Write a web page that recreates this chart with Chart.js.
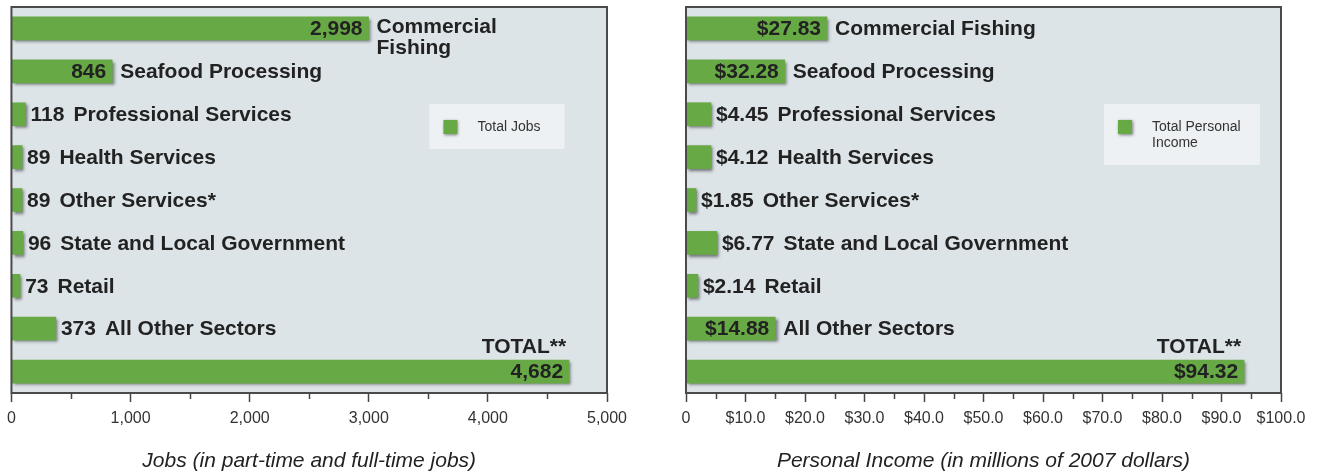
<!DOCTYPE html>
<html>
<head>
<meta charset="utf-8">
<script src="https://cdn.jsdelivr.net/npm/chart.js@4.4.1/dist/chart.umd.min.js"></script>
<style>
  html, body { margin: 0; padding: 0; background: #fff; }
  #wrap { position: relative; width: 1317px; height: 475px; overflow: hidden; }
  .box { position: absolute; top: 0; height: 475px; }
  #b1 { left: 0; width: 655px; }
  #b2 { left: 655px; width: 662px; }
</style>
</head>
<body>
<div id="wrap">
  <div class="box" id="b1"><canvas id="cJobs"></canvas></div>
  <div class="box" id="b2"><canvas id="cIncome"></canvas></div>
</div>
<script>
// Datos
const jobSectors = [['Commercial', 'Fishing'], 'Seafood Processing', 'Professional Services', 'Health Services',
  'Other Services*', 'State and Local Government', 'Retail', 'All Other Sectors', 'TOTAL**'];
const jobValues = [2998, 846, 118, 89, 89, 96, 73, 373, 4682];
const jobTickLabels = ['0', '1,000', '2,000', '3,000', '4,000', '5,000'];

const incomeSectors = ['Commercial Fishing', 'Seafood Processing', 'Professional Services', 'Health Services',
  'Other Services*', 'State and Local Government', 'Retail', 'All Other Sectors', 'TOTAL**'];
// cifras impresas en cada barra
const incomeValues = [27.83, 32.28, 4.45, 4.12, 1.85, 6.77, 2.14, 14.88, 94.32];
// largo de barra tal como está dibujado en el original (no siempre coincide con la cifra)
const incomeBars = [23.7, 16.6, 4.2, 4.2, 1.7, 5.2, 2.0, 15.0, 93.8];
const incomeTickLabels = ['0', '$10.0', '$20.0', '$30.0', '$40.0', '$50.0', '$60.0', '$70.0', '$80.0', '$90.0', '$100.0'];

const GREEN = '#67aa45';
const SANS = '"Liberation Sans", Arial, Helvetica, sans-serif';
const BOLD = 'bold 21px ' + SANS;

// sombra suave bajo las barras
const barShadow = {
  id: 'barShadow',
  beforeDatasetDraw(chart) {
    const c = chart.ctx;
    c.save();
    c.shadowColor = 'rgba(0,0,0,0.5)'; c.shadowBlur = 3; c.shadowOffsetX = 2; c.shadowOffsetY = 2;
  },
  afterDatasetDraw(chart) { chart.ctx.restore(); },
};

// fondo del área y marco
const frame = {
  id: 'frame',
  beforeDraw(chart) {
    const a = chart.chartArea, c = chart.ctx;
    c.save(); c.fillStyle = '#dde4e8'; c.fillRect(a.left, a.top, a.right - a.left, a.bottom - a.top); c.restore();
  },
  afterDatasetsDraw(chart, args, o) {
    const a = chart.chartArea, c = chart.ctx, s = chart.scales.x;
    c.save();
    c.strokeStyle = '#4a4a4a'; c.lineWidth = 2;
    c.strokeRect(a.left, a.top, a.right - a.left, a.bottom - a.top);
    // marcas menores
    c.strokeStyle = '#444'; c.lineWidth = 1.5;
    s.ticks.forEach(t => {
      if (Math.round(t.value) % o.major === 0) return;
      const x = Math.round(s.getPixelForValue(t.value)) + 0.5;
      c.beginPath(); c.moveTo(x, a.bottom); c.lineTo(x, a.bottom + 6); c.stroke();
    });
    c.restore();
  },
};

// valores y nombres de sector junto a cada barra
const barText = {
  id: 'barText',
  afterDatasetsDraw(chart, args, o) {
    const meta = chart.getDatasetMeta(0), c = chart.ctx, n = meta.data.length;
    c.save();
    c.font = BOLD; c.fillStyle = '#222'; c.textBaseline = 'middle';
    meta.data.forEach((bar, i) => {
      const txt = o.text[i], w = c.measureText(txt).width, len = bar.x - bar.base;
      let cx;
      if (len > w + 12) {
        c.textAlign = 'right'; c.fillText(txt, bar.x - 6, bar.y + 1); cx = bar.x + 8;
      } else {
        c.textAlign = 'left'; c.fillText(txt, bar.x + 5, bar.y + 1); cx = bar.x + 5 + w + 9;
      }
      const lab = chart.data.labels[i];
      if (i === n - 1) { c.textAlign = 'right'; c.fillText(lab, bar.x - 3, bar.y - 24); return; }
      const lines = Array.isArray(lab) ? lab : [lab];
      c.textAlign = 'left';
      lines.forEach((l, k) => c.fillText(l, cx, bar.y + 1 + (lines.length > 1 ? -2 + k * 21 : 0)));
    });
    c.restore();
  },
};

// leyenda en recuadro dentro del área
const boxLegend = {
  id: 'boxLegend',
  afterDraw(chart, args, o) {
    const a = chart.chartArea, c = chart.ctx;
    const x = a.left + o.dx, y = a.top + o.dy;
    c.save();
    c.font = '14px ' + SANS;
    const words = chart.data.datasets[0].label.split(' ');
    const lines = [];
    let cur = '';
    words.forEach(wd => {
      const t = cur ? cur + ' ' + wd : wd;
      if (c.measureText(t).width > o.maxText && cur) { lines.push(cur); cur = wd; } else cur = t;
    });
    lines.push(cur);
    const h = 29 + 16 * lines.length;
    c.fillStyle = '#eef1f3'; c.fillRect(x, y, o.width, h);
    c.save();
    c.shadowColor = 'rgba(0,0,0,0.5)'; c.shadowBlur = 3; c.shadowOffsetX = 1; c.shadowOffsetY = 1;
    c.fillStyle = GREEN; c.fillRect(x + 14, y + 16, 14, 14);
    c.restore();
    c.fillStyle = '#333'; c.textBaseline = 'middle'; c.textAlign = 'left';
    lines.forEach((l, k) => c.fillText(l, x + 48, y + 23 + k * 16));
    c.restore();
  },
};

function makeChart(id, cfg) {
  return new Chart(document.getElementById(id), {
    type: 'bar',
    data: {
      labels: cfg.labels,
      datasets: [{ label: cfg.legend, data: cfg.data, backgroundColor: GREEN, borderWidth: 0, barThickness: 23 }],
    },
    options: {
      indexAxis: 'y',
      responsive: true, maintainAspectRatio: false, animation: false,
      layout: { padding: cfg.padding },
      scales: {
        y: { type: 'category', display: false, grid: { display: false } },
        x: {
          min: 0, max: cfg.max,
          afterFit: s => { s.height = 82; },
          border: { display: false },
          grid: {
            drawOnChartArea: false, drawTicks: true, tickLength: 9, tickWidth: 1.5,
            tickColor: c => (c.tick && Math.round(c.tick.value) % cfg.major === 0) ? '#444' : 'rgba(0,0,0,0)',
          },
          ticks: {
            stepSize: cfg.major / 2, autoSkip: false, maxRotation: 0, padding: 7,
            color: '#333', font: { family: SANS, size: 16 },
            callback: v => (Math.round(v) % cfg.major === 0) ? cfg.tickLabels[Math.round(v) / cfg.major] : '',
          },
          title: {
            display: true, text: cfg.title, color: '#222',
            font: { family: SANS, size: 21, style: 'italic' },
            padding: { top: 0, bottom: 1 },
          },
        },
      },
      plugins: {
        legend: { display: false }, tooltip: { enabled: false },
        frame: { major: cfg.major },
        barText: { text: cfg.text },
        boxLegend: cfg.box,
      },
    },
    plugins: [frame, barShadow, barText, boxLegend],
  });
}

makeChart('cJobs', {
  labels: jobSectors, data: jobValues, legend: 'Total Jobs',
  text: jobValues.map(v => v.toLocaleString('en-US')),
  max: 5000, major: 1000, tickLabels: jobTickLabels,
  title: 'Jobs (in part-time and full-time jobs)',
  padding: { left: 10, right: 48, top: 7, bottom: 0 },
  box: { dx: 418, dy: 97, width: 135, maxText: 110 },
});

makeChart('cIncome', {
  labels: incomeSectors, data: incomeBars, legend: 'Total Personal Income',
  text: incomeValues.map(v => '$' + v.toFixed(2)),
  max: 100, major: 10, tickLabels: incomeTickLabels,
  title: 'Personal Income (in millions of 2007 dollars)',
  padding: { left: 31, right: 36, top: 7, bottom: 0 },
  box: { dx: 418, dy: 97, width: 156, maxText: 110 },
});
</script>
</body>
</html>
